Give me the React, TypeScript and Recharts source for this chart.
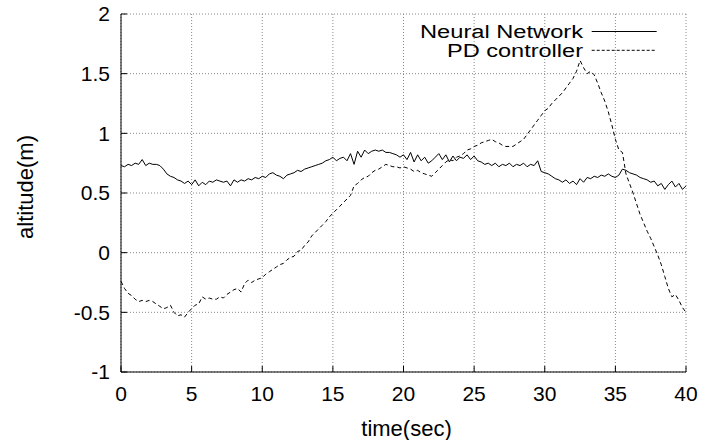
import { CartesianGrid, Legend, Line, LineChart, XAxis, YAxis } from "recharts"

// altitude samples every 0.25 s
const timeStep = 0.25

const neuralNetwork = [
  0.73, 0.72, 0.74, 0.73, 0.75, 0.74, 0.78, 0.73,
  0.75, 0.74, 0.74, 0.73, 0.70, 0.66, 0.64, 0.63,
  0.61, 0.60, 0.58, 0.60, 0.57, 0.61, 0.56, 0.59,
  0.57, 0.60, 0.59, 0.61, 0.60, 0.59, 0.60, 0.56,
  0.61, 0.59, 0.61, 0.60, 0.62, 0.61, 0.63, 0.62,
  0.64, 0.63, 0.66, 0.67, 0.65, 0.64, 0.62, 0.65,
  0.66, 0.67, 0.69, 0.68, 0.70, 0.71, 0.72, 0.73,
  0.74, 0.75, 0.77, 0.78, 0.80, 0.77, 0.79, 0.80,
  0.77, 0.83, 0.74, 0.85, 0.80, 0.86, 0.83, 0.85,
  0.86, 0.85, 0.86, 0.84, 0.84, 0.83, 0.82, 0.80,
  0.82, 0.78, 0.84, 0.76, 0.82, 0.77, 0.80, 0.75,
  0.77, 0.80, 0.83, 0.78, 0.82, 0.76, 0.81, 0.77,
  0.80, 0.79, 0.82, 0.78, 0.81, 0.77, 0.76, 0.74,
  0.75, 0.73, 0.75, 0.72, 0.74, 0.73, 0.75, 0.72,
  0.74, 0.73, 0.75, 0.72, 0.74, 0.73, 0.77, 0.68,
  0.67, 0.66, 0.64, 0.62, 0.61, 0.59, 0.61, 0.58,
  0.60, 0.57, 0.62, 0.59, 0.63, 0.62, 0.64, 0.63,
  0.65, 0.64, 0.66, 0.64, 0.63, 0.65, 0.70, 0.69,
  0.67, 0.66, 0.65, 0.63, 0.62, 0.61, 0.59, 0.60,
  0.56, 0.58, 0.53, 0.57, 0.60, 0.55, 0.58, 0.53,
  0.56,
]

const pdController = [
  -0.24, -0.30, -0.34, -0.36, -0.39, -0.41, -0.40, -0.41,
  -0.40, -0.41, -0.43, -0.45, -0.47, -0.46, -0.44, -0.50,
  -0.53, -0.52, -0.54, -0.50, -0.47, -0.44, -0.43, -0.37,
  -0.39, -0.38, -0.39, -0.39, -0.37, -0.38, -0.35, -0.33,
  -0.31, -0.30, -0.33, -0.26, -0.23, -0.25, -0.23, -0.22,
  -0.21, -0.18, -0.16, -0.14, -0.12, -0.10, -0.09, -0.06,
  -0.04, -0.03, 0.01, 0.02, 0.06, 0.09, 0.14, 0.17,
  0.20, 0.23, 0.26, 0.30, 0.33, 0.36, 0.39, 0.42,
  0.45, 0.48, 0.56, 0.58, 0.61, 0.63, 0.64, 0.67,
  0.69, 0.70, 0.72, 0.74, 0.73, 0.72, 0.72, 0.71,
  0.72, 0.71, 0.70, 0.68, 0.69, 0.67, 0.66, 0.65,
  0.64, 0.67, 0.70, 0.73, 0.76, 0.78, 0.77, 0.80,
  0.81, 0.83, 0.86, 0.87, 0.89, 0.90, 0.92, 0.93,
  0.94, 0.95, 0.93, 0.92, 0.90, 0.89, 0.89, 0.89,
  0.91, 0.93, 0.95, 0.99, 1.03, 1.07, 1.11, 1.15,
  1.19, 1.21, 1.25, 1.28, 1.31, 1.34, 1.38, 1.42,
  1.46, 1.52, 1.61, 1.55, 1.50, 1.52, 1.49, 1.42,
  1.34, 1.27, 1.18, 1.07, 0.95, 0.86, 0.84, 0.66,
  0.58, 0.50, 0.41, 0.32, 0.25, 0.18, 0.12, 0.05,
  -0.02, -0.10, -0.20, -0.30, -0.37, -0.35, -0.40, -0.46,
  -0.50,
]

const xTicks = [0, 5, 10, 15, 20, 25, 30, 35, 40]
const yTicks = [-1, -0.5, 0, 0.5, 1, 1.5, 2]

const data = neuralNetwork.map((v, i) => ({
  t: i * timeStep,
  nn: v,
  pd: pdController[i],
}))

const font = "'Liberation Sans', Arial, Helvetica, sans-serif"

function renderLegend() {
  return (
    <svg width={300} height={54} style={{ display: "block", fontFamily: font }}>
      <text x={203} y={24} textAnchor="end" fontSize={18} fill="#000" textLength={163} lengthAdjust="spacingAndGlyphs">
        Neural Network
      </text>
      <line x1={211.7} x2={276.7} y1={17.5} y2={17.5} stroke="#000" strokeWidth={1} />
      <text x={203} y={43} textAnchor="end" fontSize={18} fill="#000" textLength={136} lengthAdjust="spacingAndGlyphs">
        PD controller
      </text>
      <line x1={211.7} x2={276.7} y1={36.3} y2={36.3} stroke="#000" strokeWidth={1} strokeDasharray="3 2" />
    </svg>
  )
}

export default function App() {
  return (
    <div style={{ position: "absolute", left: 0, top: 0, width: 712, height: 440, background: "#fff", fontFamily: font }}>
      <LineChart width={712} height={440} data={data} margin={{ top: 14, right: 26, left: 0, bottom: 0 }}>
        <CartesianGrid stroke="#888" strokeDasharray="1 2" />
        <XAxis
          dataKey="t"
          type="number"
          domain={[0, 40]}
          ticks={xTicks}
          height={68}
          stroke="#000"
          tickSize={-6}
          tickMargin={20}
          tick={{ fill: "#000", fontSize: 21 }}
          label={(props: any) => {
            const vb = props.viewBox || { x: 121, y: 372, width: 565 }
            return (
              <text x={vb.x + vb.width / 2 + 3} y={vb.y + 64} textAnchor="middle" fontSize={22} fill="#000">
                time(sec)
              </text>
            )
          }}
        />
        <XAxis
          xAxisId="top"
          orientation="top"
          type="number"
          domain={[0, 40]}
          ticks={xTicks}
          height={0}
          stroke="#000"
          tickSize={-6}
          tick={false}
        />
        <YAxis
          type="number"
          domain={[-1, 2]}
          ticks={yTicks}
          width={121}
          stroke="#000"
          tickSize={-6}
          tickMargin={17}
          tick={{ fill: "#000", fontSize: 21 }}
          label={(props: any) => {
            const vb = props.viewBox || { x: 0, y: 14, height: 358 }
            const cy = vb.y + vb.height / 2 - 6
            return (
              <text x={0} y={0} transform={`translate(33, ${cy}) rotate(-90)`} textAnchor="middle" fontSize={22} fill="#000">
                altitude(m)
              </text>
            )
          }}
        />
        <YAxis
          yAxisId="right"
          orientation="right"
          type="number"
          domain={[-1, 2]}
          ticks={yTicks}
          width={0}
          stroke="#000"
          tickSize={-6}
          tick={false}
        />
        <Legend
          content={renderLegend}
          layout="horizontal"
          verticalAlign="middle"
          align="center"
          wrapperStyle={{ top: 14, left: 380, width: 300, height: 54 }}
        />
        <Line
          type="linear"
          dataKey="nn"
          name="Neural Network"
          stroke="#000"
          strokeWidth={1}
          dot={false}
          isAnimationActive={false}
        />
        <Line
          type="linear"
          dataKey="pd"
          name="PD controller"
          stroke="#000"
          strokeWidth={1}
          strokeDasharray="4 3"
          dot={false}
          isAnimationActive={false}
        />
      </LineChart>
    </div>
  )
}
